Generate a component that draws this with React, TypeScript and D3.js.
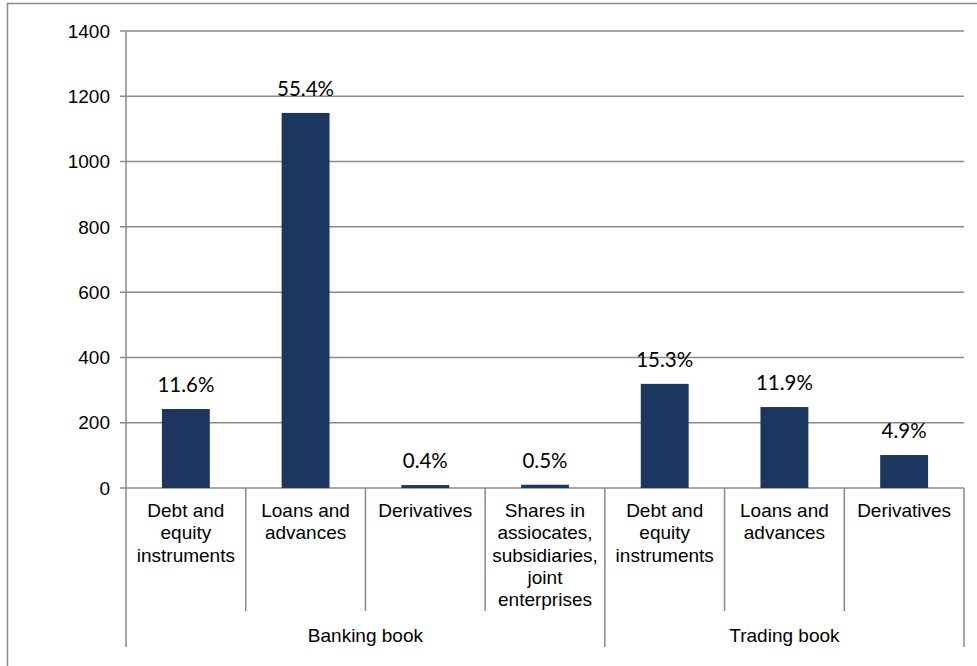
import React from "react";
import * as d3 from "d3";

// categories (lower axis level) and their group (upper axis level)
const categories = [
  ["Debt and", "equity", "instruments"],
  ["Loans and", "advances"],
  ["Derivatives"],
  ["Shares in", "assiocates,", "subsidiaries,", "joint", "enterprises"],
  ["Debt and", "equity", "instruments"],
  ["Loans and", "advances"],
  ["Derivatives"],
];
const groups = ["Banking book", "Banking book", "Banking book", "Banking book", "Trading book", "Trading book", "Trading book"];
const values = [242, 1149, 9, 10, 319, 248, 101];
const labels = ["11.6%", "55.4%", "0.4%", "0.5%", "15.3%", "11.9%", "4.9%"];
const yTicks = [0, 200, 400, 600, 800, 1000, 1200, 1400];

const App = () => {
  const width = 977;
  const height = 666;
  const plot = { left: 126, right: 964, top: 31, bottom: 488 };

  const x = d3
    .scaleBand<number>()
    .domain(values.map((_, i) => i))
    .range([plot.left, plot.right])
    .paddingInner(0.6)
    .paddingOuter(0.3);
  const y = d3.scaleLinear().domain([0, 1400]).range([plot.bottom, plot.top]);

  const step = x.step();
  const grid = "#8a8a8a";
  const axisFont = "'Liberation Sans', Arial, sans-serif";
  const axisSize = 19;

  // category boundaries and group spans
  const edges = d3.range(values.length + 1).map((i) => plot.left + i * step);
  const groupNames = Array.from(new Set(groups));
  const spans = groupNames.map((g) => {
    const idx = groups.map((d, i) => (d === g ? i : -1)).filter((i) => i >= 0);
    return { name: g, x0: edges[idx[0]], x1: edges[idx[idx.length - 1] + 1] };
  });

  return (
    <svg
      width={width}
      height={height}
      style={{ position: "absolute", left: 0, top: 0, background: "#fff" }}
    >
      {/* outer frame */}
      <rect x={7.5} y={3.5} width={990} height={700} fill="none" stroke="#8c8c8c" strokeWidth={1.5} />

      {/* gridlines + y ticks */}
      {yTicks.map((t) => (
        <g key={t}>
          <line x1={plot.left - 6} x2={plot.right} y1={y(t)} y2={y(t)} stroke={grid} strokeWidth={1.5} />
          <text
            x={plot.left - 16}
            y={y(t)}
            dy="0.35em"
            textAnchor="end"
            fontFamily={axisFont}
            fontSize={axisSize}
            fill="#000"
          >
            {t}
          </text>
        </g>
      ))}

      {/* y axis line */}
      <line x1={plot.left} x2={plot.left} y1={plot.top} y2={plot.bottom} stroke={grid} strokeWidth={1.5} />

      {/* bars */}
      {values.map((v, i) => (
        <rect
          key={i}
          x={x(i)}
          y={y(v)}
          width={x.bandwidth()}
          height={plot.bottom - y(v)}
          fill="#1b375f"
        />
      ))}

      {/* data labels */}
      {values.map((v, i) => (
        <text
          key={i}
          x={(x(i) as number) + x.bandwidth() / 2}
          y={y(v) - 17}
          textAnchor="middle"
          fontFamily="Lato, 'Open Sans', sans-serif"
          fontSize={20.5}
          fill="#000"
        >
          {labels[i]}
        </text>
      ))}

      {/* category separators */}
      {edges.map((e, i) => {
        const isGroupEdge = spans.some((s) => s.x0 === e || s.x1 === e);
        return (
          <line
            key={i}
            x1={e}
            x2={e}
            y1={plot.bottom}
            y2={isGroupEdge ? 647 : 611}
            stroke={grid}
            strokeWidth={1.5}
          />
        );
      })}

      {/* category labels */}
      {categories.map((lines, i) => (
        <text
          key={i}
          textAnchor="middle"
          fontFamily={axisFont}
          fontSize={axisSize}
          fill="#000"
        >
          {lines.map((l, j) => (
            <tspan key={j} x={(x(i) as number) + x.bandwidth() / 2} y={517 + j * 22.3}>
              {l}
            </tspan>
          ))}
        </text>
      ))}

      {/* group labels */}
      {spans.map((s) => (
        <text
          key={s.name}
          x={(s.x0 + s.x1) / 2}
          y={642}
          textAnchor="middle"
          fontFamily={axisFont}
          fontSize={axisSize}
          fill="#000"
        >
          {s.name}
        </text>
      ))}
    </svg>
  );
};

export default App;
